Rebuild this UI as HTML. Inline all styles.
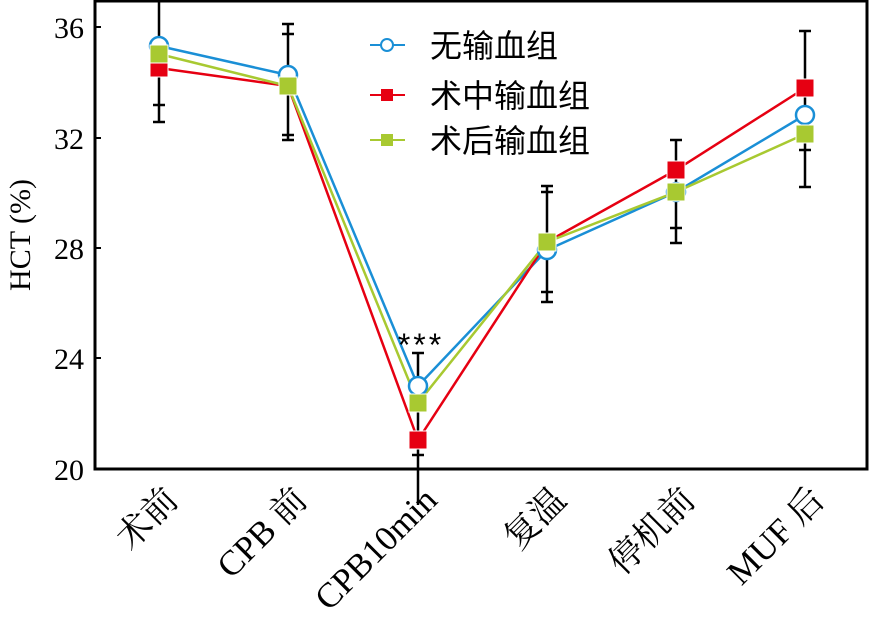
<!DOCTYPE html>
<html><head><meta charset="utf-8"><style>body{margin:0;background:#fff}</style></head><body>
<svg width="874" height="629" xmlns="http://www.w3.org/2000/svg" font-family="'Liberation Serif','Noto Serif CJK SC',serif">
<rect x="95" y="1" width="772" height="468" fill="none" stroke="#000" stroke-width="3"/>
<g stroke="#000" stroke-width="2">
<line x1="95" y1="27" x2="101" y2="27"/><line x1="95" y1="138" x2="101" y2="138"/><line x1="95" y1="248" x2="101" y2="248"/><line x1="95" y1="358" x2="101" y2="358"/>
</g>
<g font-size="30" text-anchor="end">
<text x="84" y="38">36</text><text x="84" y="149">32</text><text x="84" y="259">28</text><text x="84" y="369">24</text><text x="84" y="480">20</text>
</g>
<text transform="translate(30,235) rotate(-90)" font-size="30" text-anchor="middle">HCT (%)</text>
<g stroke="#000" stroke-width="2.5">
<line x1="159" y1="0" x2="159" y2="122"/><line x1="153" y1="105" x2="165" y2="105"/><line x1="153" y1="122" x2="165" y2="122"/>
<line x1="288" y1="24" x2="288" y2="140"/><line x1="282" y1="24" x2="294" y2="24"/><line x1="282" y1="34" x2="294" y2="34"/><line x1="282" y1="135" x2="294" y2="135"/><line x1="282" y1="140" x2="294" y2="140"/>
<line x1="418" y1="353" x2="418" y2="505"/><line x1="412" y1="353" x2="424" y2="353"/><line x1="412" y1="455" x2="424" y2="455"/>
<line x1="547" y1="186" x2="547" y2="302"/><line x1="541" y1="186" x2="553" y2="186"/><line x1="541" y1="192" x2="553" y2="192"/><line x1="541" y1="292" x2="553" y2="292"/><line x1="541" y1="302" x2="553" y2="302"/>
<line x1="676" y1="140" x2="676" y2="243"/><line x1="670" y1="140" x2="682" y2="140"/><line x1="670" y1="228" x2="682" y2="228"/><line x1="670" y1="243" x2="682" y2="243"/>
<line x1="805" y1="31" x2="805" y2="187"/><line x1="799" y1="31" x2="811" y2="31"/><line x1="799" y1="150" x2="811" y2="150"/><line x1="799" y1="187" x2="811" y2="187"/>
</g>
<polyline points="159,46 288,75 418,386 547,250 676,192 805,115" fill="none" stroke="#1a8fd6" stroke-width="2.5"/>
<polyline points="159,68 288,86 418,440 547,242 676,170 805,88" fill="none" stroke="#e60012" stroke-width="2.5"/>
<polyline points="159,54 288,86 418,403 547,242 676,192 805,134" fill="none" stroke="#a8c931" stroke-width="2.5"/>
<g fill="#fff" stroke="#1a8fd6" stroke-width="2.5">
<circle cx="159" cy="46" r="9"/><circle cx="288" cy="75" r="9"/><circle cx="418" cy="386" r="9"/><circle cx="547" cy="250" r="9"/><circle cx="676" cy="192" r="9"/><circle cx="805" cy="115" r="9"/>
</g>
<g fill="#e60012" stroke="#fff" stroke-width="1">
<rect x="150" y="59" width="18" height="18"/><rect x="279" y="77" width="18" height="18"/><rect x="409" y="431" width="18" height="18"/><rect x="538" y="233" width="18" height="18"/><rect x="667" y="161" width="18" height="18"/><rect x="796" y="79" width="18" height="18"/>
</g>
<g fill="#a8c931" stroke="#fff" stroke-width="1">
<rect x="150" y="45" width="18" height="18"/><rect x="279" y="77" width="18" height="18"/><rect x="409" y="394" width="18" height="18"/><rect x="538" y="233" width="18" height="18"/><rect x="667" y="183" width="18" height="18"/><rect x="796" y="125" width="18" height="18"/>
</g>
<text x="421" y="356" font-size="32" text-anchor="middle" letter-spacing="3" font-family="'Liberation Sans',sans-serif">***</text>
<line x1="370" y1="45" x2="405" y2="45" stroke="#1a8fd6" stroke-width="2"/><circle cx="387" cy="45" r="6" fill="#fff" stroke="#1a8fd6" stroke-width="2"/>
<line x1="370" y1="95" x2="405" y2="95" stroke="#e60012" stroke-width="2"/><rect x="381" y="89" width="12" height="12" fill="#e60012"/>
<line x1="370" y1="140" x2="405" y2="140" stroke="#a8c931" stroke-width="2"/><rect x="381" y="134" width="12" height="12" fill="#a8c931"/>
<g font-size="32" font-family="'Noto Sans CJK SC',sans-serif">
<text x="430" y="57">无输血组</text><text x="430" y="107">术中输血组</text><text x="430" y="152">术后输血组</text>
</g>
<g font-size="35" text-anchor="end">
<text transform="translate(180,502) rotate(-45)">术前</text>
<text transform="translate(309,502) rotate(-45)">CPB 前</text>
<text transform="translate(439,502) rotate(-45)">CPB10min</text>
<text transform="translate(568,502) rotate(-45)">复温</text>
<text transform="translate(697,502) rotate(-45)">停机前</text>
<text transform="translate(826,502) rotate(-45)">MUF 后</text>
</g>
</svg>
</body></html>
